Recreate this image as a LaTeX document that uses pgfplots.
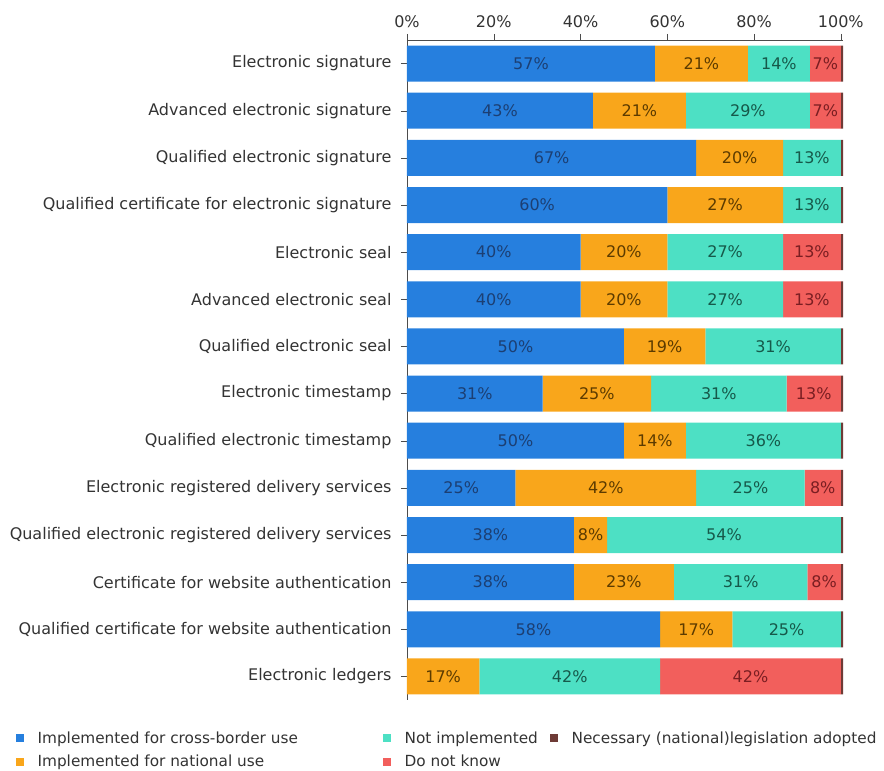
\documentclass[border=0pt]{standalone}
\usepackage{fontspec}
\setmainfont{DejaVu Sans}
\usepackage{pgfplots}
\pgfplotsset{compat=1.18}
\newcommand\myfont{\fontsize{16}{19}\selectfont}
\newcommand\legfont{\fontsize{15.3}{18}\selectfont}
\definecolor{cblue}{HTML}{267FDE}
\definecolor{corange}{HTML}{F9A61B}
\definecolor{cteal}{HTML}{4DE0C4}
\definecolor{cred}{HTML}{F25F5C}
\definecolor{cbrown}{HTML}{6E3B36}
\definecolor{lblue}{HTML}{1C3F73}
\definecolor{lorange}{HTML}{5C3B00}
\definecolor{lteal}{HTML}{16594A}
\definecolor{lred}{HTML}{7A1E22}
\definecolor{txt}{HTML}{333333}
\begin{document}
\begin{tikzpicture}[font=\myfont]
\useasboundingbox (0,0) rectangle (884pt,771pt);
\begin{axis}[
  at={(407pt,71pt)}, anchor=south west,
  scale only axis, width=436pt, height=660pt,
  xbar stacked, bar width=36pt,
  xmin=0, xmax=100.5, ymin=0.5, ymax=14.5,
  y dir=reverse,
  axis x line*=top, axis y line*=left,
  axis line style={draw=black!70},
  tick align=outside, major tick length=6pt,
  tick style={draw=black!70},
  xtick={0,20,40,60,80,100},
  xticklabels={0\%,20\%,40\%,60\%,80\%,100\%},
  xticklabel style={yshift=3pt},
  ytick={1,...,14},
  yticklabels={Electronic signature,Advanced electronic signature,Qualified electronic signature,Qualified certificate for electronic signature,Electronic seal,Advanced electronic seal,Qualified electronic seal,Electronic timestamp,Qualified electronic timestamp,Electronic registered delivery services,Qualified electronic registered delivery services,Certificate for website authentication,Qualified certificate for website authentication,Electronic ledgers},
  yticklabel style={xshift=-6pt},
  tick label style={font=\myfont, text=txt},
  /pgf/number format/assume math mode=true,
  legend columns=2, transpose legend,
  legend style={at={(-0.905,-0.042)}, anchor=north west, draw=none, fill=none,
    font=\legfont, text=txt, cells={anchor=west}, row sep=6pt,
    /tikz/every odd column/.append style={column sep=12pt},
    /tikz/every even column/.append style={column sep=8pt}},
  legend image code/.code={\fill[#1] (0pt,-4pt) rectangle (8pt,4pt);},
  nodes near coords style={font=\myfont},
]
\addplot[fill=cblue, draw=none,
  nodes near coords={\pgfmathfloatifflags{\pgfplotspointmeta}{0}{}{\pgfmathprintnumber[fixed,precision=0]{\pgfplotspointmeta}\%}},
  every node near coord/.append style={text=lblue}]
  coordinates {(57.14,1) (42.86,2) (66.67,3) (60,4) (40,5) (40,6) (50,7) (31.25,8) (50,9) (25,10) (38.46,11) (38.46,12) (58.33,13) (0,14)};
\addlegendentry{\makebox[335pt][l]{Implemented for cross-border use}}
\addplot[fill=corange, draw=none,
  nodes near coords={\pgfmathfloatifflags{\pgfplotspointmeta}{0}{}{\pgfmathprintnumber[fixed,precision=0]{\pgfplotspointmeta}\%}},
  every node near coord/.append style={text=lorange}]
  coordinates {(21.43,1) (21.43,2) (20,3) (26.67,4) (20,5) (20,6) (18.75,7) (25,8) (14.29,9) (41.67,10) (7.69,11) (23.08,12) (16.67,13) (16.67,14)};
\addlegendentry{Implemented for national use}
\addplot[fill=cteal, draw=none,
  nodes near coords={\pgfmathfloatifflags{\pgfplotspointmeta}{0}{}{\pgfmathprintnumber[fixed,precision=0]{\pgfplotspointmeta}\%}},
  every node near coord/.append style={text=lteal}]
  coordinates {(14.29,1) (28.57,2) (13.33,3) (13.33,4) (26.67,5) (26.67,6) (31.25,7) (31.25,8) (35.71,9) (25,10) (53.85,11) (30.77,12) (25,13) (41.67,14)};
\addlegendentry{\makebox[135pt][l]{Not implemented}}
\addplot[fill=cred, draw=none,
  nodes near coords={\pgfmathfloatifflags{\pgfplotspointmeta}{0}{}{\pgfmathprintnumber[fixed,precision=0]{\pgfplotspointmeta}\%}},
  every node near coord/.append style={text=lred}]
  coordinates {(7.14,1) (7.14,2) (0,3) (0,4) (13.33,5) (13.33,6) (0,7) (12.51,8) (0,9) (8.33,10) (0,11) (7.69,12) (0,13) (41.67,14)};
\addlegendentry{Do not know}
\addplot[fill=cbrown, draw=none]
  coordinates {(0.5,1) (0.5,2) (0.5,3) (0.5,4) (0.5,5) (0.5,6) (0.5,7) (0.5,8) (0.5,9) (0.5,10) (0.5,11) (0.5,12) (0.5,13) (0.5,14)};
\addlegendentry{Necessary (national)legislation adopted}
\end{axis}
\end{tikzpicture}
\end{document}
